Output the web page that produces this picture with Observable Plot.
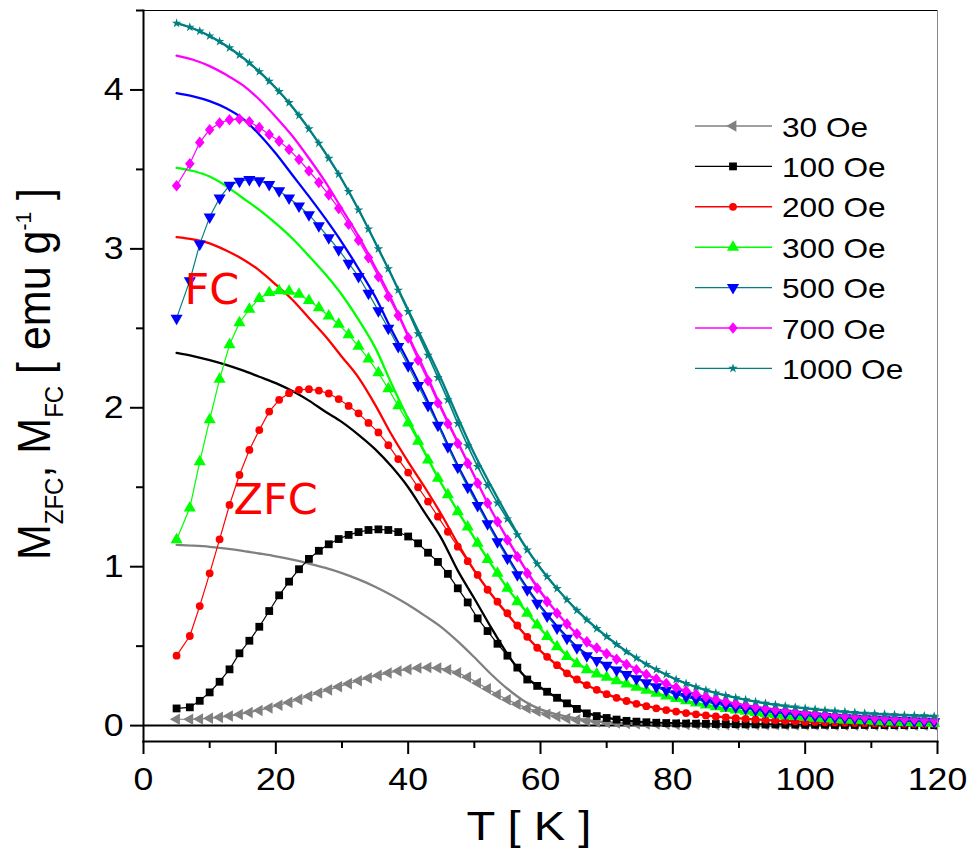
<!DOCTYPE html>
<html><head><meta charset="utf-8">
<script src="https://cdn.jsdelivr.net/npm/d3@7"></script>
<script src="https://cdn.jsdelivr.net/npm/@observablehq/plot@0.6"></script>
<style>
html,body{margin:0;padding:0;background:#fff;}
#chart{position:relative;width:969px;height:852px;}
</style></head><body><div id="chart"></div>
<script>
// ---------- data ----------
const fields = ["30 Oe","100 Oe","200 Oe","300 Oe","500 Oe","700 Oe","1000 Oe"];

const T_ZFC = [
  5, 7, 8.5, 10, 11.5, 13, 14.5, 16, 17.5, 19,
  20.5, 22, 23.5, 25, 26.5, 28, 29.5, 31, 32.5, 34,
  35.5, 37, 38.5, 40, 41.5, 43, 44.5, 46, 47.5, 49,
  50.5, 52, 53.5, 55, 56.5, 58, 59.5, 61, 62.5, 64,
  65.5, 67, 68.5, 70, 71.5, 73, 74.5, 76, 77.5, 79,
  80.5, 82, 83.5, 85, 86.5, 88, 89.5, 91, 92.5, 94,
  95.5, 97, 98.5, 100, 101.5, 103, 104.5, 106, 107.5, 109,
  110.5, 112, 113.5, 115, 116.5, 118, 119.5];

const T_FC = [
  5, 7.5, 10, 12.5, 15, 17.5, 20, 22.5, 25, 27.5,
  30, 32.5, 35, 37.5, 40, 42.5, 45, 47.5, 50, 52.5,
  55, 57.5, 60, 62.5, 65, 67.5, 70, 75, 80, 85,
  90, 95, 100, 105, 110, 115, 120];

// ZFC (markers)
const zfc30 = [
  0.040, 0.040, 0.042, 0.046, 0.052, 0.060, 0.070, 0.082, 0.095, 0.111,
  0.128, 0.146, 0.165, 0.185, 0.205, 0.225, 0.245, 0.264, 0.282, 0.300,
  0.316, 0.331, 0.344, 0.354, 0.362, 0.366, 0.363, 0.352, 0.333, 0.305,
  0.268, 0.232, 0.196, 0.163, 0.135, 0.110, 0.090, 0.072, 0.057, 0.045,
  0.036, 0.029, 0.023, 0.019, 0.016, 0.014, 0.012, 0.011, 0.010, 0.009,
  0.008, 0.008, 0.007, 0.007, 0.006, 0.006, 0.006, 0.005, 0.005, 0.005,
  0.005, 0.004, 0.004, 0.004, 0.004, 0.004, 0.003, 0.003, 0.003, 0.003,
  0.003, 0.003, 0.002, 0.002, 0.002, 0.002, 0.002];
const zfc100 = [
  0.108, 0.115, 0.156, 0.209, 0.276, 0.354, 0.455, 0.534, 0.622, 0.721,
  0.820, 0.906, 0.984, 1.049, 1.100, 1.141, 1.174, 1.200, 1.218, 1.231,
  1.235, 1.231, 1.218, 1.190, 1.147, 1.088, 1.030, 0.955, 0.864, 0.775,
  0.675, 0.595, 0.515, 0.440, 0.365, 0.290, 0.250, 0.213, 0.175, 0.140,
  0.105, 0.077, 0.060, 0.048, 0.038, 0.030, 0.025, 0.021, 0.018, 0.016,
  0.014, 0.013, 0.012, 0.011, 0.010, 0.009, 0.009, 0.008, 0.008, 0.007,
  0.007, 0.006, 0.006, 0.005, 0.005, 0.005, 0.004, 0.004, 0.004, 0.004,
  0.004, 0.003, 0.003, 0.003, 0.003, 0.003, 0.003];
const zfc200 = [
  0.440, 0.564, 0.752, 0.958, 1.172, 1.389, 1.577, 1.735, 1.860, 1.976,
  2.050, 2.092, 2.113, 2.117, 2.108, 2.090, 2.055, 2.012, 1.965, 1.905,
  1.845, 1.765, 1.677, 1.592, 1.500, 1.410, 1.315, 1.220, 1.126, 1.035,
  0.948, 0.855, 0.780, 0.707, 0.630, 0.559, 0.490, 0.433, 0.380, 0.329,
  0.290, 0.255, 0.225, 0.198, 0.175, 0.155, 0.137, 0.122, 0.109, 0.098,
  0.088, 0.079, 0.071, 0.064, 0.058, 0.052, 0.047, 0.043, 0.039, 0.036,
  0.033, 0.030, 0.027, 0.025, 0.023, 0.021, 0.019, 0.018, 0.016, 0.015,
  0.014, 0.013, 0.012, 0.011, 0.010, 0.009, 0.008];
const zfc300 = [
  1.170, 1.370, 1.660, 1.925, 2.180, 2.396, 2.535, 2.620, 2.688, 2.725,
  2.736, 2.733, 2.715, 2.675, 2.630, 2.578, 2.525, 2.460, 2.387, 2.307,
  2.220, 2.120, 2.012, 1.905, 1.790, 1.672, 1.557, 1.452, 1.346, 1.250,
  1.147, 1.045, 0.958, 0.864, 0.780, 0.707, 0.633, 0.560, 0.496, 0.435,
  0.390, 0.352, 0.325, 0.305, 0.283, 0.262, 0.242, 0.222, 0.204, 0.187,
  0.171, 0.156, 0.142, 0.130, 0.119, 0.108, 0.099, 0.090, 0.082, 0.075,
  0.068, 0.062, 0.057, 0.052, 0.047, 0.043, 0.039, 0.036, 0.033, 0.030,
  0.027, 0.025, 0.022, 0.020, 0.018, 0.016, 0.014];
const zfc500 = [
  2.564, 2.800, 3.030, 3.200, 3.320, 3.400, 3.425, 3.437, 3.428, 3.405,
  3.365, 3.320, 3.270, 3.215, 3.145, 3.070, 2.995, 2.910, 2.826, 2.720,
  2.610, 2.500, 2.385, 2.265, 2.140, 2.015, 1.890, 1.755, 1.625, 1.500,
  1.385, 1.270, 1.157, 1.053, 0.950, 0.855, 0.770, 0.690, 0.615, 0.550,
  0.490, 0.440, 0.410, 0.380, 0.350, 0.322, 0.295, 0.270, 0.245, 0.222,
  0.200, 0.183, 0.167, 0.153, 0.140, 0.128, 0.117, 0.107, 0.098, 0.090,
  0.083, 0.077, 0.071, 0.066, 0.061, 0.057, 0.053, 0.049, 0.046, 0.043,
  0.040, 0.037, 0.034, 0.032, 0.029, 0.027, 0.025];
const zfc700 = [
  3.397, 3.536, 3.670, 3.750, 3.792, 3.813, 3.817, 3.800, 3.763, 3.720,
  3.678, 3.625, 3.562, 3.490, 3.418, 3.340, 3.255, 3.155, 3.055, 2.945,
  2.825, 2.700, 2.580, 2.440, 2.300, 2.170, 2.030, 1.900, 1.775, 1.650,
  1.525, 1.400, 1.283, 1.168, 1.063, 0.958, 0.864, 0.780, 0.707, 0.640,
  0.578, 0.527, 0.488, 0.452, 0.418, 0.385, 0.352, 0.322, 0.293, 0.265,
  0.240, 0.218, 0.198, 0.180, 0.164, 0.150, 0.138, 0.127, 0.117, 0.108,
  0.100, 0.093, 0.086, 0.080, 0.075, 0.070, 0.065, 0.061, 0.057, 0.053,
  0.050, 0.047, 0.044, 0.042, 0.040, 0.037, 0.035];
const zfc1000 = [
  4.420, 4.395, 4.370, 4.340, 4.305, 4.265, 4.220, 4.170, 4.115, 4.055,
  3.990, 3.920, 3.840, 3.755, 3.665, 3.570, 3.470, 3.360, 3.245, 3.125,
  3.000, 2.875, 2.740, 2.605, 2.465, 2.330, 2.190, 2.050, 1.900, 1.760,
  1.630, 1.510, 1.400, 1.300, 1.200, 1.105, 1.018, 0.937, 0.862, 0.792,
  0.725, 0.665, 0.610, 0.560, 0.510, 0.465, 0.425, 0.385, 0.352, 0.322,
  0.290, 0.265, 0.243, 0.223, 0.205, 0.189, 0.175, 0.162, 0.150, 0.140,
  0.131, 0.123, 0.116, 0.109, 0.103, 0.097, 0.092, 0.087, 0.082, 0.078,
  0.074, 0.071, 0.068, 0.065, 0.063, 0.061, 0.059];

// FC (lines)
const fc30 = [
  1.137, 1.132, 1.125, 1.114, 1.100, 1.083, 1.065, 1.044, 1.020, 0.993,
  0.960, 0.920, 0.874, 0.820, 0.760, 0.692, 0.620, 0.530, 0.430, 0.325,
  0.232, 0.155, 0.102, 0.070, 0.048, 0.033, 0.022, 0.013, 0.009, 0.007,
  0.006, 0.005, 0.004, 0.004, 0.003, 0.003, 0.002];
const fc100 = [
  2.345, 2.325, 2.300, 2.270, 2.235, 2.195, 2.155, 2.105, 2.045, 1.975,
  1.910, 1.830, 1.740, 1.630, 1.500, 1.340, 1.180, 0.975, 0.800, 0.620,
  0.450, 0.315, 0.240, 0.175, 0.118, 0.074, 0.050, 0.024, 0.015, 0.011,
  0.008, 0.007, 0.005, 0.004, 0.004, 0.003, 0.003];
const fc200 = [
  3.074, 3.060, 3.035, 2.990, 2.935, 2.865, 2.775, 2.680, 2.565, 2.450,
  2.320, 2.190, 2.020, 1.830, 1.660, 1.500, 1.330, 1.145, 0.975, 0.830,
  0.700, 0.580, 0.470, 0.380, 0.300, 0.245, 0.198, 0.132, 0.093, 0.064,
  0.045, 0.033, 0.025, 0.019, 0.014, 0.011, 0.008];
const fc300 = [
  3.510, 3.490, 3.455, 3.395, 3.320, 3.245, 3.160, 3.065, 2.955, 2.840,
  2.710, 2.555, 2.380, 2.150, 1.930, 1.720, 1.525, 1.350, 1.180, 1.020,
  0.865, 0.735, 0.610, 0.500, 0.410, 0.345, 0.305, 0.237, 0.175, 0.130,
  0.096, 0.070, 0.052, 0.042, 0.028, 0.020, 0.014];
const fc500 = [
  3.980, 3.960, 3.930, 3.885, 3.820, 3.720, 3.600, 3.465, 3.330, 3.190,
  3.040, 2.875, 2.700, 2.490, 2.290, 2.080, 1.855, 1.635, 1.440, 1.245,
  1.065, 0.895, 0.750, 0.625, 0.515, 0.435, 0.382, 0.290, 0.205, 0.153,
  0.115, 0.087, 0.066, 0.052, 0.041, 0.032, 0.025];
const fc700 = [
  4.216, 4.190, 4.150, 4.095, 4.030, 3.940, 3.830, 3.710, 3.570, 3.420,
  3.250, 3.080, 2.885, 2.680, 2.455, 2.235, 2.000, 1.785, 1.570, 1.360,
  1.175, 1.000, 0.845, 0.710, 0.595, 0.505, 0.455, 0.343, 0.248, 0.180,
  0.134, 0.102, 0.080, 0.063, 0.051, 0.042, 0.035];
const fc1000 = [
  4.420, 4.387, 4.340, 4.278, 4.203, 4.115, 4.012, 3.893, 3.755, 3.602,
  3.435, 3.248, 3.042, 2.832, 2.615, 2.400, 2.180, 1.940, 1.710, 1.510,
  1.320, 1.140, 0.990, 0.862, 0.747, 0.648, 0.560, 0.412, 0.300, 0.223,
  0.171, 0.134, 0.109, 0.090, 0.076, 0.066, 0.059];

const xTicks = [0, 20, 40, 60, 80, 100, 120];
const xMinor = [10, 30, 50, 70, 90, 110];
const yTicks = [0, 1, 2, 3, 4];
const yMinor = [0.5, 1.5, 2.5, 3.5, 4.5];

const annotations = [
  {label: "FC", T: 6.2, M: 2.74},
  {label: "ZFC", T: 13.6, M: 1.42}
];

// ---------- styles ----------
const markerColors = ["#808080", "#000000", "#ff0000", "#00ff00", "#0000ff", "#ff00ff", "#008080"];
const zfcLineColors = ["#808080", "#000000", "#ff0000", "#00ff00", "#008080", "#ff00ff", "#008080"];
const fcColors = ["#808080", "#000000", "#ff0000", "#00ff00", "#0000ff", "#ff00ff", "#008080"];

const sqrt3 = Math.sqrt(3);
const triLeft = {draw(ctx, size) { const y = -Math.sqrt(size / (sqrt3 * 3));
  ctx.moveTo(y * 2, 0); ctx.lineTo(-y, -sqrt3 * y); ctx.lineTo(-y, sqrt3 * y); ctx.closePath(); }};
const triDown = {draw(ctx, size) { const y = -Math.sqrt(size / (sqrt3 * 3));
  ctx.moveTo(0, -y * 2); ctx.lineTo(-sqrt3 * y, y); ctx.lineTo(sqrt3 * y, y); ctx.closePath(); }};
const diamond = {draw(ctx, size) { const a = Math.sqrt(size / 2);
  ctx.moveTo(0, -1.1 * a); ctx.lineTo(0.9 * a, 0); ctx.lineTo(0, 1.1 * a); ctx.lineTo(-0.9 * a, 0); ctx.closePath(); }};
const symbols = [triLeft, d3.symbolSquare, d3.symbolCircle, d3.symbolTriangle, triDown, diamond, d3.symbolStar];
const radii = [4.3, 4.4, 3.9, 4.5, 4.5, 4.2, 3.0];
const zfcWidths = [1.2, 1.2, 1.2, 1.2, 1.2, 1.2, 1.6];

const zfcData = [zfc30, zfc100, zfc200, zfc300, zfc500, zfc700, zfc1000];
const fcData = [fc30, fc100, fc200, fc300, fc500, fc700, fc1000];

const FONT = "'Liberation Sans', Arial, Helvetica, sans-serif";
const STRETCH = 1.15;

// ---------- marks ----------
const marks = [Plot.ruleY([0], {stroke: "#000", strokeWidth: 2})];
fields.forEach((f, i) => {
  const rows = T_FC.map((t, j) => ({T: t, M: fcData[i][j]}));
  marks.push(Plot.line(rows, {x: "T", y: "M", stroke: fcColors[i], strokeWidth: 2.3, curve: "monotone-x"}));
});
fields.forEach((f, i) => {
  const rows = T_ZFC.map((t, j) => ({T: t, M: zfcData[i][j]}));
  marks.push(Plot.line(rows, {x: "T", y: "M", stroke: zfcLineColors[i], strokeWidth: zfcWidths[i]}));
  marks.push(Plot.dot(rows, {x: "T", y: "M", symbol: symbols[i], r: radii[i], fill: markerColors[i], stroke: "none"}));
});
marks.push(
  Plot.text(annotations, {x: "T", y: "M", text: "label", fill: "#ff0000", fontSize: 43,
    fontFamily: "'DejaVu Sans', sans-serif", textAnchor: "start"}),
  Plot.frame({anchor: "top", stroke: "#000", strokeWidth: 1}),
  Plot.frame({anchor: "right", stroke: "#8a8a8a", strokeWidth: 1}),
  Plot.frame({anchor: "left", stroke: "#000", strokeWidth: 2}),
  Plot.frame({anchor: "bottom", stroke: "#000", strokeWidth: 2}),
  Plot.axisX(xTicks, {tickSize: 13, tickPadding: 13, fontSize: 31, strokeWidth: 2, label: null, tickFormat: d3.format("d")}),
  Plot.axisX(xMinor, {tickSize: 7, tickFormat: () => "", strokeWidth: 2, label: null}),
  Plot.axisY(yTicks, {tickSize: 13, tickPadding: 7, fontSize: 31, strokeWidth: 2, label: null, tickFormat: d3.format("d")}),
  Plot.axisY(yMinor, {tickSize: 7, tickFormat: () => "", strokeWidth: 2, label: null})
);

const svgNode = Plot.plot({
  width: 969, height: 852,
  marginLeft: 143, marginRight: 32, marginTop: 10, marginBottom: 111,
  x: {domain: [0, 120]},
  y: {domain: [-0.1, 4.5]},
  style: {fontFamily: FONT, background: "#fff", color: "#000", overflow: "visible"},
  marks
});
document.getElementById("chart").append(svgNode);

// stretch tick labels horizontally (as in the reference)
svgNode.querySelectorAll('g[aria-label$="tick label"] text').forEach(t => {
  const tr = t.getAttribute("transform");
  if (tr) t.setAttribute("transform", tr + ` scale(${STRETCH},1)`);
  else {
    const x = +t.getAttribute("x") || 0, y = +t.getAttribute("y") || 0;
    t.removeAttribute("x"); t.removeAttribute("y");
    t.setAttribute("transform", `translate(${x},${y}) scale(${STRETCH},1)`);
  }
});

const svg = d3.select(svgNode);

// axis titles
svg.append("text")
  .attr("transform", `translate(529,840) scale(${STRETCH},1)`)
  .attr("text-anchor", "middle").attr("font-family", FONT).attr("font-size", 41).attr("fill", "#000")
  .style("white-space", "pre").text("T [ K ]");

const yt = svg.append("text")
  .attr("transform", `translate(50,374) rotate(-90) scale(1,1.09)`)
  .attr("text-anchor", "middle").attr("font-family", FONT).attr("font-size", 43).attr("fill", "#000")
  .style("white-space", "pre");
yt.append("tspan").text("M");
yt.append("tspan").attr("font-size", 24).attr("dy", 12).text("ZFC");
yt.append("tspan").attr("dy", -12).text(", M");
yt.append("tspan").attr("font-size", 24).attr("dy", 12).text("FC");
yt.append("tspan").attr("dy", -12).text(" [ emu g");
yt.append("tspan").attr("font-size", 21).attr("dy", -17).text("-1");
yt.append("tspan").attr("dy", 17).text(" ]");

// legend
const leg = svg.append("g");
fields.forEach((f, i) => {
  const cy = 126 + i * 40.4;
  leg.append("line").attr("x1", 695).attr("x2", 772).attr("y1", cy).attr("y2", cy)
    .attr("stroke", zfcLineColors[i]).attr("stroke-width", 1.4);
  leg.append("path").attr("d", d3.symbol(symbols[i], radii[i] * radii[i] * Math.PI)())
    .attr("transform", `translate(733,${cy})`).attr("fill", markerColors[i]);
  leg.append("text").attr("transform", `translate(782,${cy + 10.5}) scale(${STRETCH},1)`)
    .attr("text-anchor", "start")
    .attr("font-family", FONT).attr("font-size", 27.5).attr("fill", "#000")
    .style("white-space", "pre").text(f);
});
</script></body></html>
